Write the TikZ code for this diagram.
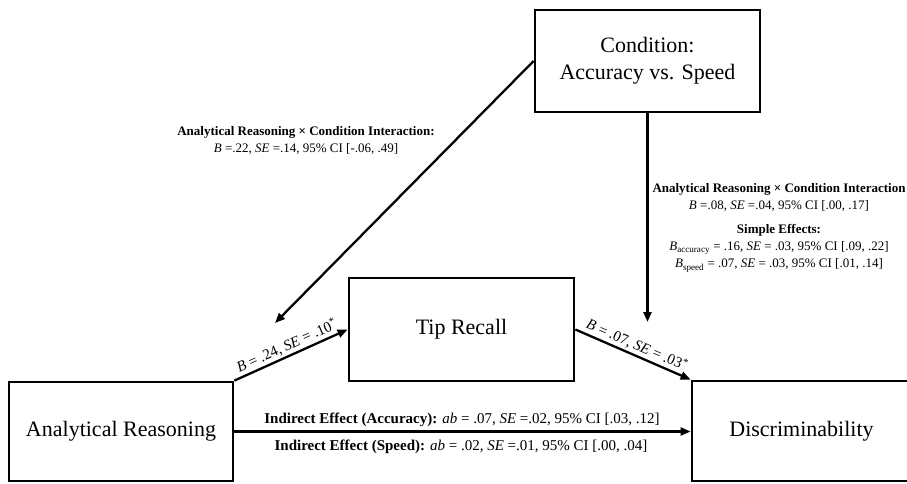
\documentclass[tikz,border=0pt]{standalone}
\usepackage{fontspec}
\setmainfont{Liberation Serif}
\usetikzlibrary{arrows.meta,calc}
\begin{document}
\begin{tikzpicture}[x=1pt,y=-1pt,
  box/.style={draw,line width=2.8pt,inner sep=0pt,align=center,font=\fontsize{22}{27}\selectfont},
  conn/.style={line width=2.3pt,-{Triangle[length=10pt,width=8pt]}},
  ann/.style={font=\fontsize{13}{17}\selectfont,align=center,inner sep=0pt},
  pth/.style={font=\fontsize{15}{18}\selectfont,inner sep=2pt}
]
\clip (0,0) rectangle (907,483);
\fill[white] (0,0) rectangle (907,483);
% boxes
\node[box,minimum width=224pt,minimum height=99pt] (ar) at (121,431.5) {Analytical Reasoning};
\node[box,minimum width=225pt,minimum height=103pt] (tip) at (461.5,329.5) {Tip Recall};
\node[box,minimum width=225pt,minimum height=102pt] (cond) at (647.5,61) {Condition:\\Accuracy vs. Speed};
\node[box,minimum width=219pt,minimum height=100pt] (disc) at (801.5,431) {Discriminability};
% free ends
\coordinate (m1) at (275,323);
\coordinate (m2) at (647.5,322);
% connectors
\draw[conn] (cond.west) -- (m1);
\draw[conn] (cond.south) -- (m2);
\draw[conn] (ar.north east) -- node[pth,sloped,above]{\textit{B} = .24, \textit{SE} = .10\textsuperscript{*}} (tip.west);
\draw[conn] (tip.east) -- node[pth,sloped,above]{\textit{B} = .07, \textit{SE} = .03\textsuperscript{*}} (disc.north west);
\draw[conn] (ar.east) -- (ar.east -| disc.west);
% annotations
\node[ann] (lab1) at (306,140) {\textbf{Analytical Reasoning × Condition Interaction:}\\\textit{B} =.22, \textit{SE} =.14, 95\% CI [-.06, .49]};
\node[ann] (lab2) at (779,228) {\textbf{Analytical Reasoning × Condition Interaction}\\
  \textit{B} =.08, \textit{SE} =.04, 95\% CI [.00, .17]\\[7pt]
  \textbf{Simple Effects:}\\
  \textit{B}\textsubscript{accuracy} = .16, \textit{SE} = .03, 95\% CI [.09, .22]\\
  \textit{B}\textsubscript{speed} = .07, \textit{SE} = .03, 95\% CI [.01, .14]};
\node[pth] (ie1) at (462,420) {\textbf{Indirect Effect (Accuracy):} \textit{ab} = .07, \textit{SE} =.02, 95\% CI [.03, .12]};
\node[pth] (ie2) at (461,447) {\textbf{Indirect Effect (Speed):} \textit{ab} = .02, \textit{SE} =.01, 95\% CI [.00, .04]};
\end{tikzpicture}
\end{document}
